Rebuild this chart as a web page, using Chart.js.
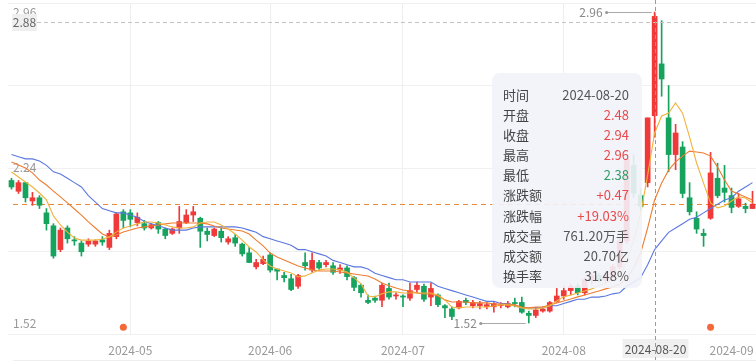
<!DOCTYPE html>
<html>
<head>
<meta charset="utf-8">
<script src="https://cdn.jsdelivr.net/npm/chart.js@4.4.1/dist/chart.umd.min.js"></script>
<style>
  html, body { margin: 0; padding: 0; background: #fff; }
  #wrap { width: 756px; height: 362px; position: relative; }
</style>
</head>
<body>
<div id="wrap"><canvas id="kline"></canvas></div>
<script>
// daily candles, 2024-04-08 .. 2024-09-09
const open = [2.18,2.13,2.17,2.085,2.10,2.03,1.97,1.86,1.96,1.905,
  1.89,1.885,1.885,1.905,1.87,1.92,2.035,2.03,1.985,1.98,
  1.96,1.985,1.955,1.935,1.96,1.985,2.02,2.005,1.945,1.925,
  1.945,1.895,1.915,1.885,1.845,1.78,1.795,1.835,1.77,1.74,
  1.725,1.69,1.80,1.765,1.80,1.79,1.785,1.765,1.775,1.73,
  1.695,1.625,1.635,1.625,1.68,1.645,1.645,1.635,1.675,1.69,
  1.64,1.65,1.60,1.585,1.59,1.625,1.60,1.60,1.595,1.595,
  1.60,1.595,1.615,1.615,1.565,1.555,1.575,1.575,1.62,1.645,
  1.67,1.69,1.66,1.72,1.74,1.72,1.74,1.78,1.90,2.25,
  2.11,2.17,2.48,2.72,2.47,2.30,2.335,2.10,2.005,1.935,
  2.005,2.19,2.145,2.11,2.06,2.06,2.05];
const high = [2.19,2.18,2.17,2.125,2.11,2.05,1.98,1.96,1.97,1.92,
  1.90,1.91,1.905,1.92,1.95,2.03,2.045,2.045,2.03,1.995,
  1.98,1.99,1.96,1.96,2.06,2.045,2.06,2.01,1.96,1.96,
  1.96,1.92,1.93,1.89,1.87,1.815,1.83,1.845,1.77,1.755,
  1.745,1.745,1.845,1.845,1.81,1.81,1.80,1.79,1.785,1.735,
  1.70,1.65,1.645,1.705,1.705,1.66,1.65,1.705,1.71,1.70,
  1.705,1.655,1.605,1.595,1.625,1.635,1.625,1.62,1.615,1.615,
  1.615,1.62,1.635,1.64,1.575,1.59,1.595,1.62,1.68,1.69,
  1.70,1.70,1.73,1.75,1.75,1.75,1.79,1.91,2.28,2.30,
  2.14,2.47,2.96,2.92,2.62,2.44,2.36,2.17,2.035,1.955,
  2.31,2.26,2.25,2.145,2.12,2.075,2.13];
const low = [2.14,2.12,2.08,2.065,2.05,1.95,1.82,1.85,1.89,1.88,
  1.83,1.875,1.875,1.88,1.86,1.91,1.96,1.965,1.97,1.95,
  1.955,1.935,1.91,1.93,1.935,1.98,1.99,1.87,1.90,1.92,
  1.895,1.885,1.875,1.83,1.80,1.77,1.79,1.755,1.72,1.71,
  1.67,1.68,1.765,1.755,1.765,1.78,1.745,1.75,1.72,1.67,
  1.64,1.61,1.615,1.595,1.63,1.63,1.595,1.625,1.66,1.62,
  1.60,1.595,1.545,1.535,1.585,1.605,1.59,1.585,1.585,1.57,
  1.59,1.59,1.595,1.565,1.52,1.545,1.57,1.57,1.615,1.63,
  1.65,1.65,1.65,1.70,1.71,1.71,1.73,1.77,1.89,2.10,
  2.04,2.15,2.38,2.57,2.22,2.23,2.10,2.02,1.935,1.875,
  2.00,2.10,2.08,2.03,2.055,2.03,2.05];
const close = [2.15,2.17,2.10,2.10,2.065,1.98,1.83,1.95,1.91,1.90,
  1.85,1.90,1.90,1.895,1.935,2.025,1.995,2.00,2.01,1.96,
  1.975,1.955,1.925,1.955,1.99,2.02,2.035,1.945,1.93,1.955,
  1.915,1.91,1.89,1.84,1.80,1.80,1.815,1.765,1.76,1.73,
  1.675,1.74,1.785,1.81,1.775,1.80,1.755,1.775,1.735,1.685,
  1.66,1.615,1.625,1.695,1.64,1.65,1.64,1.67,1.695,1.63,
  1.68,1.605,1.59,1.55,1.62,1.615,1.615,1.61,1.605,1.61,
  1.605,1.61,1.61,1.57,1.555,1.58,1.585,1.615,1.645,1.67,
  1.69,1.66,1.72,1.74,1.72,1.74,1.78,1.90,2.28,2.12,
  2.06,2.47,2.94,2.65,2.30,2.40,2.12,2.035,1.955,1.925,
  2.215,2.11,2.125,2.055,2.095,2.05,2.07];

// moving averages as drawn
const ma5 = [2.219,2.196,2.173,2.150,2.122,2.090,2.016,1.974,1.941,1.914,
  1.904,1.904,1.904,1.909,1.918,1.941,1.960,1.969,1.979,1.988,
  1.988,1.983,1.974,1.965,1.960,1.960,1.965,1.983,1.988,1.988,
  1.974,1.955,1.932,1.904,1.872,1.849,1.812,1.784,1.770,1.761,
  1.752,1.733,1.738,1.752,1.766,1.770,1.770,1.766,1.756,1.729,
  1.701,1.645,1.641,1.655,1.664,1.664,1.659,1.659,1.659,1.659,
  1.659,1.650,1.627,1.594,1.590,1.594,1.594,1.594,1.594,1.599,
  1.604,1.604,1.599,1.590,1.585,1.585,1.590,1.599,1.622,1.641,
  1.650,1.659,1.668,1.678,1.692,1.705,1.719,1.733,1.803,1.904,
  2.025,2.205,2.400,2.479,2.492,2.539,2.492,2.381,2.261,2.168,
  2.076,2.053,2.062,2.085,2.104,2.099,2.076];
const ma10 = [2.266,2.252,2.238,2.215,2.182,2.159,2.131,2.104,2.076,2.048,
  2.020,1.988,1.960,1.932,1.918,1.928,1.941,1.951,1.960,1.965,
  1.969,1.974,1.979,1.983,1.983,1.983,1.983,1.983,1.979,1.969,
  1.960,1.955,1.951,1.946,1.932,1.904,1.877,1.844,1.826,1.812,
  1.798,1.784,1.775,1.766,1.761,1.761,1.761,1.756,1.752,1.747,
  1.742,1.738,1.724,1.705,1.692,1.682,1.673,1.668,1.659,1.654,
  1.654,1.645,1.627,1.617,1.617,1.617,1.613,1.613,1.613,1.608,
  1.608,1.608,1.604,1.594,1.590,1.594,1.594,1.604,1.613,1.622,
  1.631,1.641,1.650,1.659,1.668,1.678,1.687,1.701,1.724,1.775,
  1.844,1.960,2.090,2.168,2.228,2.266,2.293,2.316,2.312,2.307,
  2.293,2.242,2.182,2.131,2.117,2.104,2.090];
const ma20 = [2.30,2.29,2.28,2.28,2.27,2.25,2.22,2.21,2.19,2.17,
  2.15,2.11,2.08,2.05,2.04,2.03,2.03,2.02,2.01,1.99,
  1.98,1.97,1.96,1.95,1.95,1.95,1.96,1.965,1.965,1.965,
  1.965,1.965,1.965,1.96,1.95,1.94,1.92,1.91,1.90,1.89,
  1.88,1.86,1.86,1.85,1.84,1.83,1.81,1.80,1.79,1.78,
  1.78,1.77,1.75,1.74,1.73,1.72,1.72,1.71,1.71,1.71,
  1.71,1.69,1.68,1.67,1.66,1.65,1.64,1.63,1.62,1.62,
  1.61,1.61,1.60,1.59,1.59,1.59,1.59,1.60,1.60,1.61,
  1.62,1.63,1.63,1.64,1.64,1.645,1.655,1.66,1.69,1.71,
  1.73,1.79,1.86,1.90,1.94,1.96,1.98,2.00,2.01,2.03,
  2.05,2.07,2.09,2.10,2.13,2.15,2.17];

const tickIdx = [17, 37, 56, 79, 103];
const tickLabels = ['2024-05', '2024-06', '2024-07', '2024-08', '2024-09'];
const priceTicks = [1.52, 2.24, 2.96];
const eventIdx = [16, 100];

const focusIdx = 92;
const focusDate = '2024-08-20';
const cursorPrice = '2.88';
const tipNames = ['时间', '开盘', '收盘', '最高', '最低', '涨跌额', '涨跌幅', '成交量', '成交额', '换手率'];
const tipExtra = ['761.20万手', '20.70亿', '31.48%'];

const RED = '#f03a3a';
const GREEN = '#16a35e';
const yMin = 1.469, yMax = 3.002;

const idx = close.map((_, i) => i);
const candleColor = idx.map(i => close[i] >= open[i] ? RED : GREEN);

function maSet(vals, color) {
  return {
    type: 'line',
    data: vals.map((v, i) => ({ x: i, y: v })),
    borderColor: color,
    borderWidth: 1.1,
    pointRadius: 0,
    tension: 0,
    order: 0
  };
}

function flatAxis(s) {
  s.width = 0;
  s.paddingTop = 0;
  s.paddingBottom = 0;
}

const overlay = {
  id: 'overlay',
  beforeDatasetsDraw(chart) {
    const { ctx, chartArea: a, scales: { y } } = chart;
    const ly = Math.round(y.getPixelForValue(close[close.length - 1])) + 0.5;
    ctx.save();
    ctx.strokeStyle = '#e8893a';
    ctx.lineWidth = 1;
    ctx.setLineDash([5, 4]);
    ctx.beginPath();
    ctx.moveTo(13, ly);
    ctx.lineTo(a.right, ly);
    ctx.stroke();
    ctx.restore();
  },
  afterDatasetsDraw(chart) {
    const { ctx, chartArea: a, scales: { x, y } } = chart;
    ctx.save();
    ctx.font = '12px "Noto Sans CJK SC", "Noto Sans", sans-serif';
    ctx.textBaseline = 'middle';

    // highest / lowest markers
    const hi = high.indexOf(Math.max(...high));
    const lo = low.indexOf(Math.min(...low));
    [[hi, high[hi]], [lo, low[lo]]].forEach(([i, v]) => {
      const px = x.getPixelForValue(i) - 3;
      const py = Math.round(y.getPixelForValue(v)) + 0.5;
      ctx.strokeStyle = '#aaa';
      ctx.fillStyle = '#999';
      ctx.lineWidth = 1;
      ctx.beginPath();
      ctx.moveTo(px, py);
      ctx.lineTo(px - 45, py);
      ctx.stroke();
      ctx.beginPath();
      ctx.arc(px - 45, py, 1.6, 0, Math.PI * 2);
      ctx.fill();
      ctx.fillStyle = '#888';
      ctx.textAlign = 'right';
      ctx.fillText(v.toFixed(2), px - 49, py);
    });

    // crosshair
    const cx = Math.round(x.getPixelForValue(focusIdx)) + 0.5;
    const cy = a.top + 19.5;
    ctx.strokeStyle = '#c4c4c4';
    ctx.setLineDash([4, 3]);
    ctx.beginPath();
    ctx.moveTo(37, cy);
    ctx.lineTo(a.right, cy);
    ctx.stroke();
    ctx.fillStyle = '#efefef';
    ctx.fillRect(12, cy - 8.5, 25, 17);
    ctx.fillStyle = '#666';
    ctx.textAlign = 'center';
    ctx.fillText(cursorPrice, 24.5, cy);

    ctx.fillStyle = 'rgba(238,238,238,0.9)';
    ctx.fillRect(cx - 33, a.bottom + 5, 66, 19);
    ctx.fillStyle = '#555';
    ctx.fillText(focusDate, cx, a.bottom + 15);

    ctx.strokeStyle = '#9a9a9a';
    ctx.beginPath();
    ctx.moveTo(cx, 0);
    ctx.lineTo(cx, chart.height);
    ctx.stroke();
    ctx.setLineDash([]);

    // bottom separator
    ctx.strokeStyle = '#eeeeee';
    ctx.beginPath();
    ctx.moveTo(13, 360.5);
    ctx.lineTo(a.right, 360.5);
    ctx.stroke();

    // tooltip
    const prev = close[focusIdx - 1];
    const chg = close[focusIdx] - prev;
    const prices = [open[focusIdx], close[focusIdx], high[focusIdx], low[focusIdx]];
    const tipVals = [focusDate].concat(prices.map(v => v.toFixed(2)),
      ['+' + chg.toFixed(2), '+' + (chg / prev * 100).toFixed(2) + '%'], tipExtra);
    const tipCols = ['#555'].concat(prices.map(v => v >= prev ? '#e84a4a' : '#2e9d63'),
      ['#e84a4a', '#e84a4a', '#555', '#555', '#555']);
    const left = 492, top = 73, w = 150, h = 215;
    ctx.fillStyle = 'rgba(242,243,249,0.9)';
    ctx.beginPath();
    ctx.roundRect(left, top, w, h, 8);
    ctx.fill();
    ctx.font = '13px "Noto Sans CJK SC", sans-serif';
    tipNames.forEach((n, k) => {
      const ty = top + 22 + k * 20.1;
      ctx.textAlign = 'left';
      ctx.fillStyle = '#444';
      ctx.fillText(n, left + 11, ty);
      ctx.textAlign = 'right';
      ctx.fillStyle = tipCols[k];
      ctx.fillText(tipVals[k], left + w - 13, ty);
    });
    ctx.restore();
  }
};

Chart.defaults.font.family = '"Noto Sans CJK SC", "Noto Sans", sans-serif';
Chart.defaults.font.size = 12;

new Chart(document.getElementById('kline'), {
  type: 'bar',
  data: {
    datasets: [
      maSet(ma5, '#f0b23c'),
      maSet(ma10, '#ee7d31'),
      maSet(ma20, '#5b78e0'),
      {
        type: 'line',
        data: eventIdx.map(i => ({ x: i, y: 1.50 })),
        showLine: false,
        pointRadius: 3.5,
        pointBorderWidth: 0,
        pointBackgroundColor: '#f4683a',
        order: 0
      },
      {
        type: 'bar',
        data: idx.map(i => ({ x: i, y: [open[i], close[i]] })),
        backgroundColor: candleColor,
        barThickness: 5,
        minBarLength: 1,
        grouped: false,
        order: 1
      },
      {
        type: 'bar',
        data: idx.map(i => ({ x: i, y: [low[i], high[i]] })),
        backgroundColor: candleColor,
        barThickness: 1,
        grouped: false,
        order: 2
      }
    ]
  },
  options: {
    responsive: true,
    maintainAspectRatio: false,
    animation: false,
    layout: { autoPadding: false, padding: { top: 3, left: 8, right: -1, bottom: 0 } },
    plugins: { legend: { display: false }, tooltip: { enabled: false } },
    scales: {
      x: {
        type: 'linear',
        min: -0.5,
        max: close.length - 0.5,
        offset: false,
        afterBuildTicks: s => { s.ticks = tickIdx.map(v => ({ value: v })); },
        afterFit: s => { s.height = 28; s.paddingLeft = 0; s.paddingRight = 0; },
        ticks: {
          autoSkip: false,
          maxRotation: 0,
          padding: 9,
          color: '#999',
          callback: v => tickLabels[tickIdx.indexOf(v)]
        },
        grid: {
          color: c => (c.index < tickIdx.length - 1 ? '#eeeeee' : 'rgba(0,0,0,0)'),
          drawTicks: false,
          offset: false
        },
        border: { display: false }
      },
      y: {
        min: yMin,
        max: yMax,
        afterBuildTicks: s => {
          s.ticks = [0, 1, 2, 3, 4].map(k => ({ value: yMin + k * (yMax - yMin) / 4 }));
        },
        afterFit: flatAxis,
        ticks: { display: false },
        grid: { color: '#f0f0f0', drawTicks: false },
        border: { display: false }
      },
      yl: {
        position: 'left',
        min: yMin,
        max: yMax,
        afterBuildTicks: s => { s.ticks = priceTicks.map(v => ({ value: v })); },
        afterFit: flatAxis,
        ticks: { mirror: true, padding: 5, color: '#999', callback: v => v.toFixed(2) },
        grid: { display: false, drawTicks: false },
        border: { display: false }
      }
    }
  },
  plugins: [overlay]
});
</script>
</body>
</html>
